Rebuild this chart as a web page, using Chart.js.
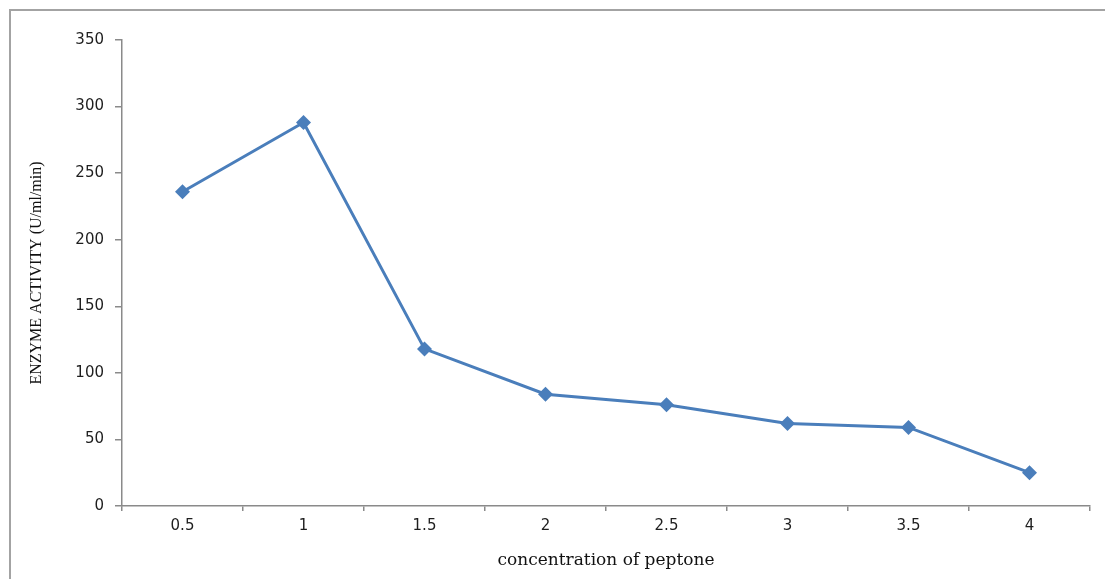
<!DOCTYPE html>
<html>
<head>
<meta charset="utf-8">
<style>
  html, body { margin: 0; padding: 0; background: #ffffff; }
  #wrap { position: relative; width: 1105px; height: 579px; }
</style>
<script src="https://cdn.jsdelivr.net/npm/chart.js@4/dist/chart.umd.min.js"></script>
</head>
<body>
<div id="wrap"><canvas id="chart" width="1105" height="579"></canvas></div>
<script>
// Peptone concentration levels (x categories)
const categories = ['0.5', '1', '1.5', '2', '2.5', '3', '3.5', '4'];
// Enzyme activity measured at each concentration (U/ml/min)
const activity = [236, 288, 118, 84, 76, 62, 59, 25];
// Value-axis range
const yMin = 0;
const yMax = 350;
const yStep = 50;

const axisColor = '#8a8a8a';
const seriesColor = '#4a7ebb';

// Thin grey frame along the top and left edges of the figure
const framePlugin = {
  id: 'frame',
  beforeDraw(chart) {
    const ctx = chart.ctx;
    ctx.save();
    ctx.strokeStyle = '#a3a3a3';
    ctx.lineWidth = 2;
    ctx.beginPath();
    ctx.moveTo(10, chart.height);
    ctx.lineTo(10, 10);
    ctx.lineTo(chart.width, 10);
    ctx.stroke();
    ctx.restore();
  }
};

new Chart(document.getElementById('chart'), {
  type: 'line',
  data: {
    labels: categories,
    datasets: [{
      data: activity,
      borderColor: seriesColor,
      backgroundColor: seriesColor,
      borderWidth: 3,
      pointStyle: 'rectRot',
      pointRadius: 7.5,
      pointBackgroundColor: seriesColor,
      pointBorderColor: seriesColor,
      pointBorderWidth: 0,
      tension: 0,
      fill: false
    }]
  },
  options: {
    responsive: false,
    animation: false,
    devicePixelRatio: 1,
    layout: { padding: { top: 40, right: 15, left: 0, bottom: 0 } },
    plugins: {
      legend: { display: false },
      tooltip: { enabled: false }
    },
    scales: {
      x: {
        type: 'category',
        offset: true,
        afterFit(scale) { scale.height = 73; },
        border: { display: true, color: axisColor, width: 1.5 },
        grid: {
          offset: true,
          drawOnChartArea: false,
          drawTicks: true,
          tickLength: 5,
          color: axisColor,
          lineWidth: 1.5
        },
        ticks: {
          color: '#1e1e1e',
          font: { family: 'DejaVu Sans', size: 15 },
          padding: 6,
          maxRotation: 0,
          autoSkip: false
        },
        title: {
          display: true,
          text: 'concentration of peptone',
          color: '#111111',
          font: { family: 'DejaVu Serif', size: 17, lineHeight: 1 },
          padding: { top: 0, bottom: 9.5 }
        }
      },
      y: {
        min: yMin,
        max: yMax,
        afterFit(scale) { scale.width = 122; },
        border: { display: true, color: axisColor, width: 1.5 },
        grid: {
          drawOnChartArea: false,
          drawTicks: true,
          tickLength: 7,
          color: axisColor,
          lineWidth: 1.5
        },
        ticks: {
          stepSize: yStep,
          color: '#1e1e1e',
          font: { family: 'DejaVu Sans', size: 15 },
          padding: 11
        },
        title: {
          display: true,
          text: 'ENZYME ACTIVITY (U/ml/min)',
          color: '#111111',
          font: { family: 'Liberation Serif', size: 16, lineHeight: 1 },
          padding: { top: 29, bottom: 0 }
        }
      }
    }
  },
  plugins: [framePlugin]
});
</script>
</body>
</html>
